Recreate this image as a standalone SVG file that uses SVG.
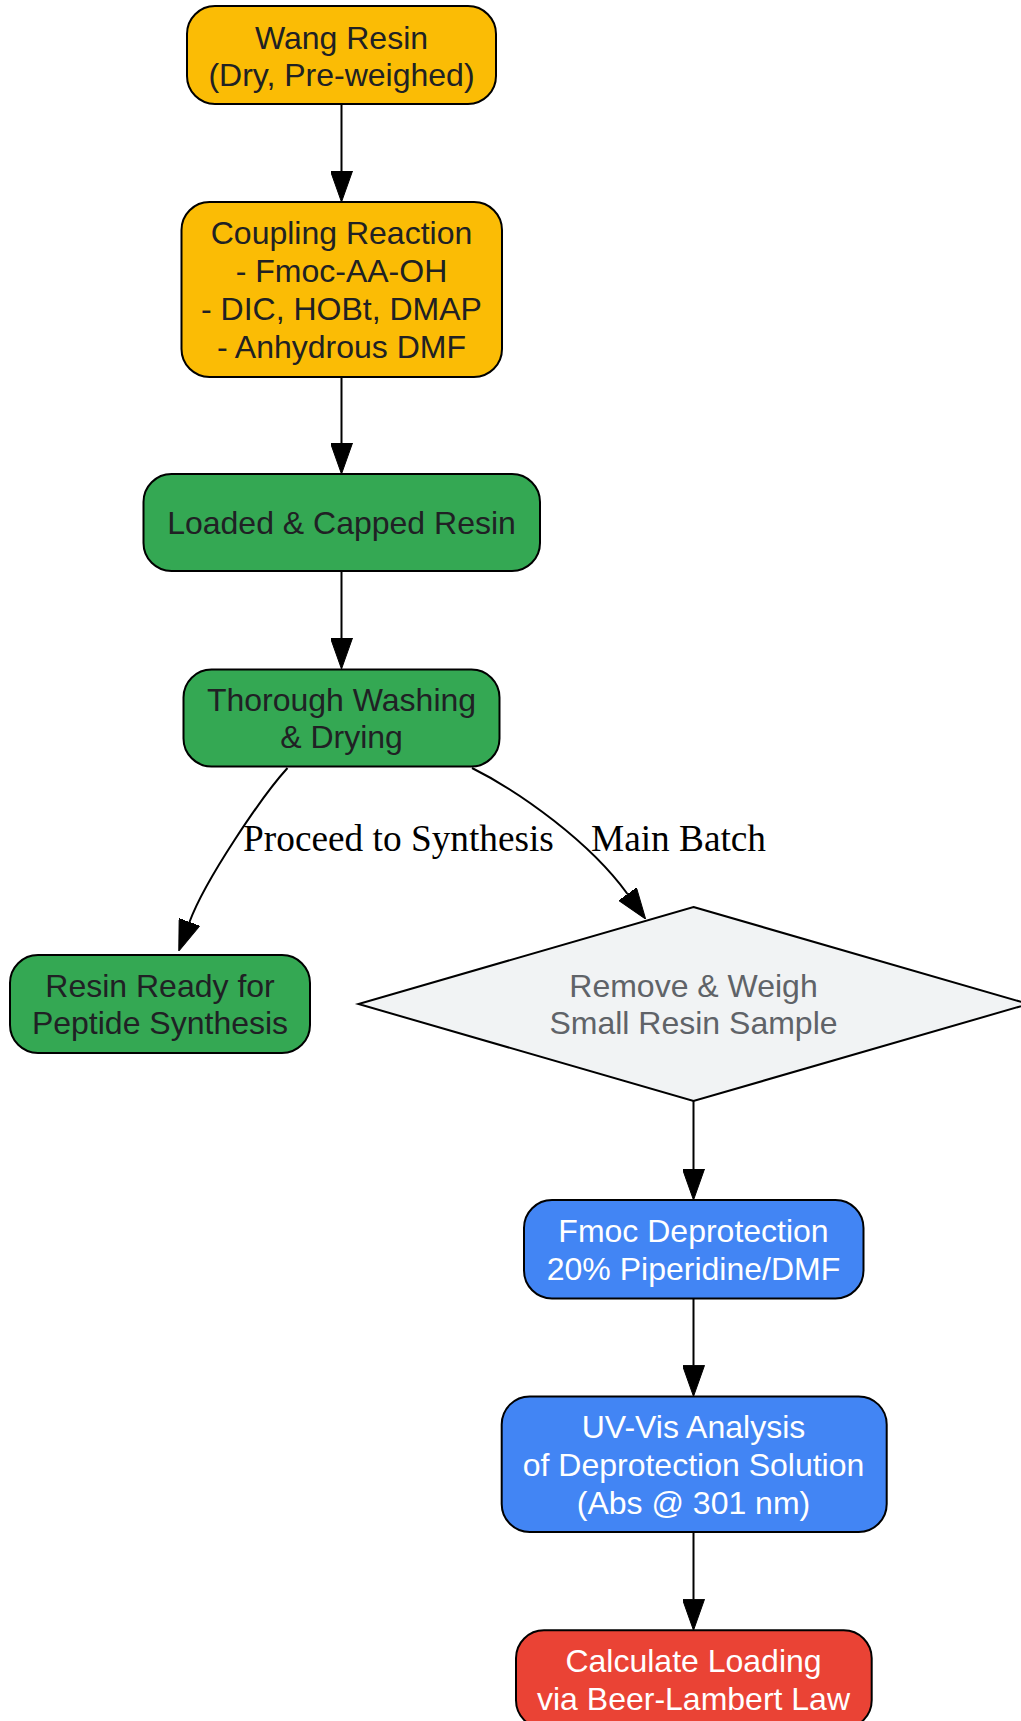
<svg xmlns="http://www.w3.org/2000/svg" width="1021" height="1721" viewBox="0 0 1021 1721">
<defs>
<marker id="ah" viewBox="0 0 31 22" refX="0" refY="11" markerWidth="31" markerHeight="22" orient="auto" markerUnits="userSpaceOnUse">
<path d="M0,0 L31,11 L0,22 z" fill="#000" stroke="#000" stroke-width="1"/>
</marker>
<style>
.box{stroke:#000;stroke-width:2}
.y{fill:#fbbc05}.g{fill:#34a853}.b{fill:#4285f4}.r{fill:#ea4335}.d{fill:#f1f3f4}
.t{font-family:"Liberation Sans",Arial,sans-serif;font-size:32px;text-anchor:middle}
.dk{fill:#202124}.wh{fill:#ffffff}.gr{fill:#5f6368}
.e{fill:none;stroke:#000;stroke-width:2;marker-end:url(#ah)}
.el{font-family:"Liberation Serif","Times New Roman",serif;font-size:37.3px;text-anchor:middle;fill:#000}
</style>
</defs>
<rect width="1021" height="1721" fill="#fff"/>
<g id="connectors">
<path class="e" d="M341.5,104 L341.5,171"/>
<path class="e" d="M341.5,377 L341.5,443"/>
<path class="e" d="M341.5,571 L341.5,638"/>
<path class="e" d="M287.5,768 C262,796 205,880 189.5,922"/>
<path class="e" d="M472,768 C520,792 590,842 627.5,894"/>
<path class="e" d="M693.5,1101 L693.5,1169"/>
<path class="e" d="M693.5,1298.4 L693.5,1365.4"/>
<path class="e" d="M693.5,1532 L693.5,1599.3"/>
<text class="el" x="398.5" y="850.5">Proceed to Synthesis</text>
<text class="el" x="678.5" y="850.5">Main Batch</text>
</g>
<g id="wang">
<rect class="box y" x="187" y="6" width="309" height="98" rx="28"/>
<text class="t dk" x="341.5" y="48.5">Wang Resin</text>
<text class="t dk" x="341.5" y="86">(Dry, Pre-weighed)</text>
</g>
<g id="coupling">
<rect class="box y" x="181.5" y="202" width="320.5" height="175" rx="28"/>
<text class="t dk" x="341.5" y="243.5">Coupling Reaction</text>
<text class="t dk" x="341.5" y="281.5">- Fmoc-AA-OH</text>
<text class="t dk" x="341.5" y="319.5">- DIC, HOBt, DMAP</text>
<text class="t dk" x="341.5" y="357.5">- Anhydrous DMF</text>
</g>
<g id="loaded">
<rect class="box g" x="143.5" y="474" width="396.5" height="97" rx="28"/>
<text class="t dk" x="341.5" y="534">Loaded &amp; Capped Resin</text>
</g>
<g id="washing">
<rect class="box g" x="183.5" y="669.5" width="316" height="97" rx="28"/>
<text class="t dk" x="341.5" y="710.5">Thorough Washing</text>
<text class="t dk" x="341.5" y="748">&amp; Drying</text>
</g>
<g id="ready">
<rect class="box g" x="10" y="955" width="300" height="98" rx="28"/>
<text class="t dk" x="160" y="996.5">Resin Ready for</text>
<text class="t dk" x="160" y="1034">Peptide Synthesis</text>
</g>
<g id="sample">
<polygon class="box d" points="693.5,907 1028.5,1004 693.5,1101 358.5,1004"/>
<text class="t gr" x="693.5" y="996.5">Remove &amp; Weigh</text>
<text class="t gr" x="693.5" y="1034">Small Resin Sample</text>
</g>
<g id="deprotection">
<rect class="box b" x="524" y="1200" width="339.5" height="98.4" rx="28"/>
<text class="t wh" x="693.5" y="1241.5">Fmoc Deprotection</text>
<text class="t wh" x="693.5" y="1279.5">20% Piperidine/DMF</text>
</g>
<g id="uvvis">
<rect class="box b" x="501.7" y="1396.4" width="385" height="135.6" rx="28"/>
<text class="t wh" x="693.5" y="1437.5">UV-Vis Analysis</text>
<text class="t wh" x="693.5" y="1475.5">of Deprotection Solution</text>
<text class="t wh" x="693.5" y="1513.5">(Abs @ 301 nm)</text>
</g>
<g id="calculate">
<rect class="box r" x="516" y="1630.3" width="355.7" height="98" rx="28"/>
<text class="t wh" x="693.5" y="1671.5">Calculate Loading</text>
<text class="t wh" x="693.5" y="1709.5">via Beer-Lambert Law</text>
</g>
</svg>
